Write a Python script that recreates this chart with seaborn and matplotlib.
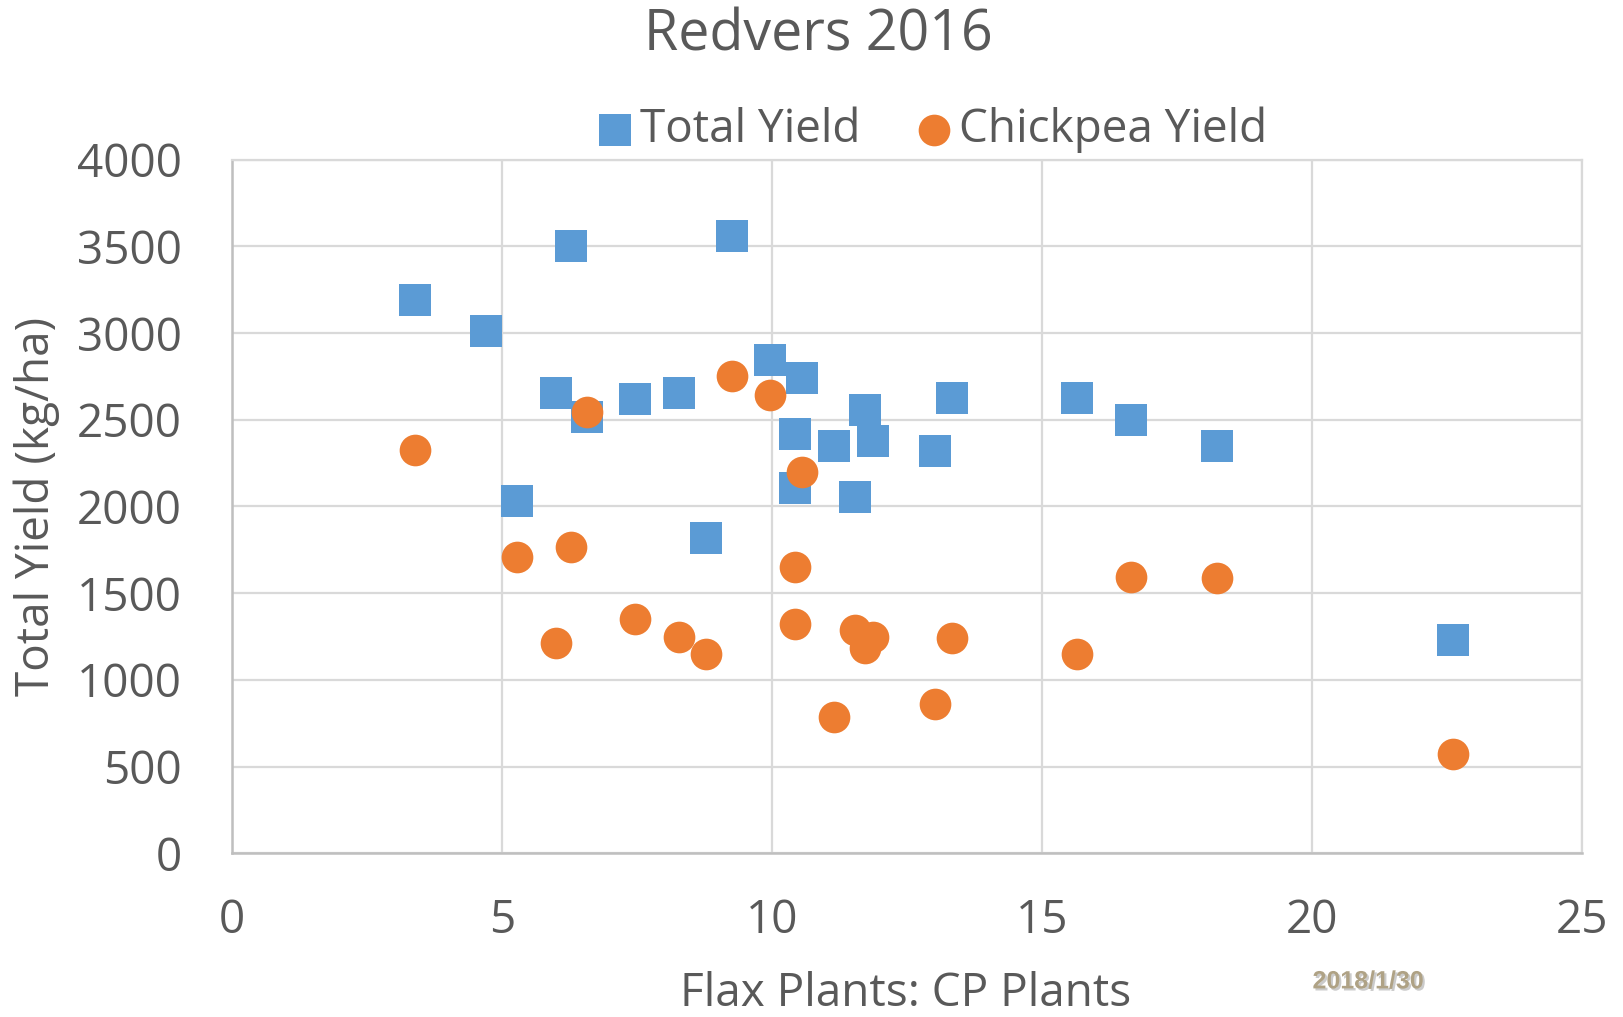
import matplotlib
matplotlib.use("Agg")
import matplotlib.pyplot as plt
import matplotlib.patheffects as pe
import seaborn as sns
import pandas as pd

# ---- data ----
total_x = [3.39, 4.70, 6.27, 9.26, 6.00, 6.58, 7.46, 8.28, 5.27, 8.78, 9.95, 10.56,
           10.43, 10.43, 11.14, 11.71, 11.87, 11.54, 13.02, 13.32, 15.64, 16.64, 18.23, 22.60]
total_y = [3190, 3010, 3500, 3560, 2655, 2515, 2620, 2655, 2030, 1820, 2845, 2740,
           2420, 2105, 2350, 2555, 2375, 2055, 2320, 2625, 2625, 2500, 2350, 1230]

chick_x = [3.39, 5.27, 6.27, 6.58, 6.00, 7.46, 8.28, 8.78, 9.26, 9.95, 10.56, 10.43,
           10.43, 11.14, 11.54, 11.71, 11.87, 13.02, 13.32, 15.64, 16.64, 18.23, 22.60]
chick_y = [2325, 1710, 1765, 2545, 1210, 1350, 1250, 1150, 2750, 2645, 2200, 1650,
           1320, 785, 1290, 1185, 1245, 860, 1240, 1150, 1595, 1585, 570]

x_ticks = [0, 5, 10, 15, 20, 25]
y_ticks = [0, 500, 1000, 1500, 2000, 2500, 3000, 3500, 4000]

title = "Redvers 2016"
series_names = ["Total Yield", "Chickpea Yield"]
x_label = "Flax Plants: CP Plants"
y_label = "Total Yield (kg/ha)"
stamp = "2018/1/30"

# ---- style ----
sns.set_theme(style="white")
plt.rcParams["font.family"] = ["Open Sans", "DejaVu Sans"]
TEXT = "#595959"
BLUE = "#5B9BD5"
ORANGE = "#ED7D31"
GRID = "#D9D9D9"
FS = 33

fig = plt.figure(figsize=(16.23, 10.17), dpi=100)
ax = fig.add_axes([0.143, 0.161, 0.832, 0.682])

df_total = pd.DataFrame({"x": total_x, "y": total_y})
df_chick = pd.DataFrame({"x": chick_x, "y": chick_y})

sns.scatterplot(data=df_total, x="x", y="y", ax=ax, marker="s", s=560,
                color=BLUE, linewidth=0, label=series_names[0], zorder=3)
sns.scatterplot(data=df_chick, x="x", y="y", ax=ax, marker="o", s=520,
                color=ORANGE, linewidth=0, label=series_names[1], zorder=4)

ax.set_xlim(0, 25)
ax.set_ylim(0, 4000)
ax.set_xticks(x_ticks)
ax.set_yticks(y_ticks)
ax.grid(True, color=GRID, linewidth=1.6)
ax.set_axisbelow(True)
for side in ["top", "right"]:
    ax.spines[side].set_color(GRID)
    ax.spines[side].set_linewidth(1.6)
for side in ["left", "bottom"]:
    ax.spines[side].set_color("#BFBFBF")
    ax.spines[side].set_linewidth(1.8)

ax.tick_params(axis="both", length=0, labelsize=FS, labelcolor=TEXT)
ax.tick_params(axis="y", pad=36)
ax.tick_params(axis="x", pad=32)

ax.set_xlabel(x_label, fontsize=FS, color=TEXT, va="center")
ax.set_ylabel(y_label, fontsize=FS, color=TEXT, va="center")
ax.xaxis.set_label_coords(0.499, -0.203)
ax.yaxis.set_label_coords(-0.145, 0.5)

ax.get_legend().remove()
handles, labels = ax.get_legend_handles_labels()
fig.legend(handles, labels, loc="center", bbox_to_anchor=(0.574, 0.872), ncol=2,
           frameon=False, fontsize=FS, labelcolor=TEXT, handlelength=0.8,
           handletextpad=0.15, columnspacing=1.2, markerscale=1.0)

fig.suptitle(title, x=0.504, y=0.965, va="center", fontsize=40, color=TEXT)

fig.text(0.843, 0.035, stamp, fontsize=18, fontweight="bold", color="#AFA285",
         family=["Liberation Sans", "DejaVu Sans"], ha="center", va="center",
         path_effects=[pe.withSimplePatchShadow(offset=(1.5, -1.5), shadow_rgbFace="#999999", alpha=0.5)])

fig.savefig("out.png", dpi=100, facecolor="white")
